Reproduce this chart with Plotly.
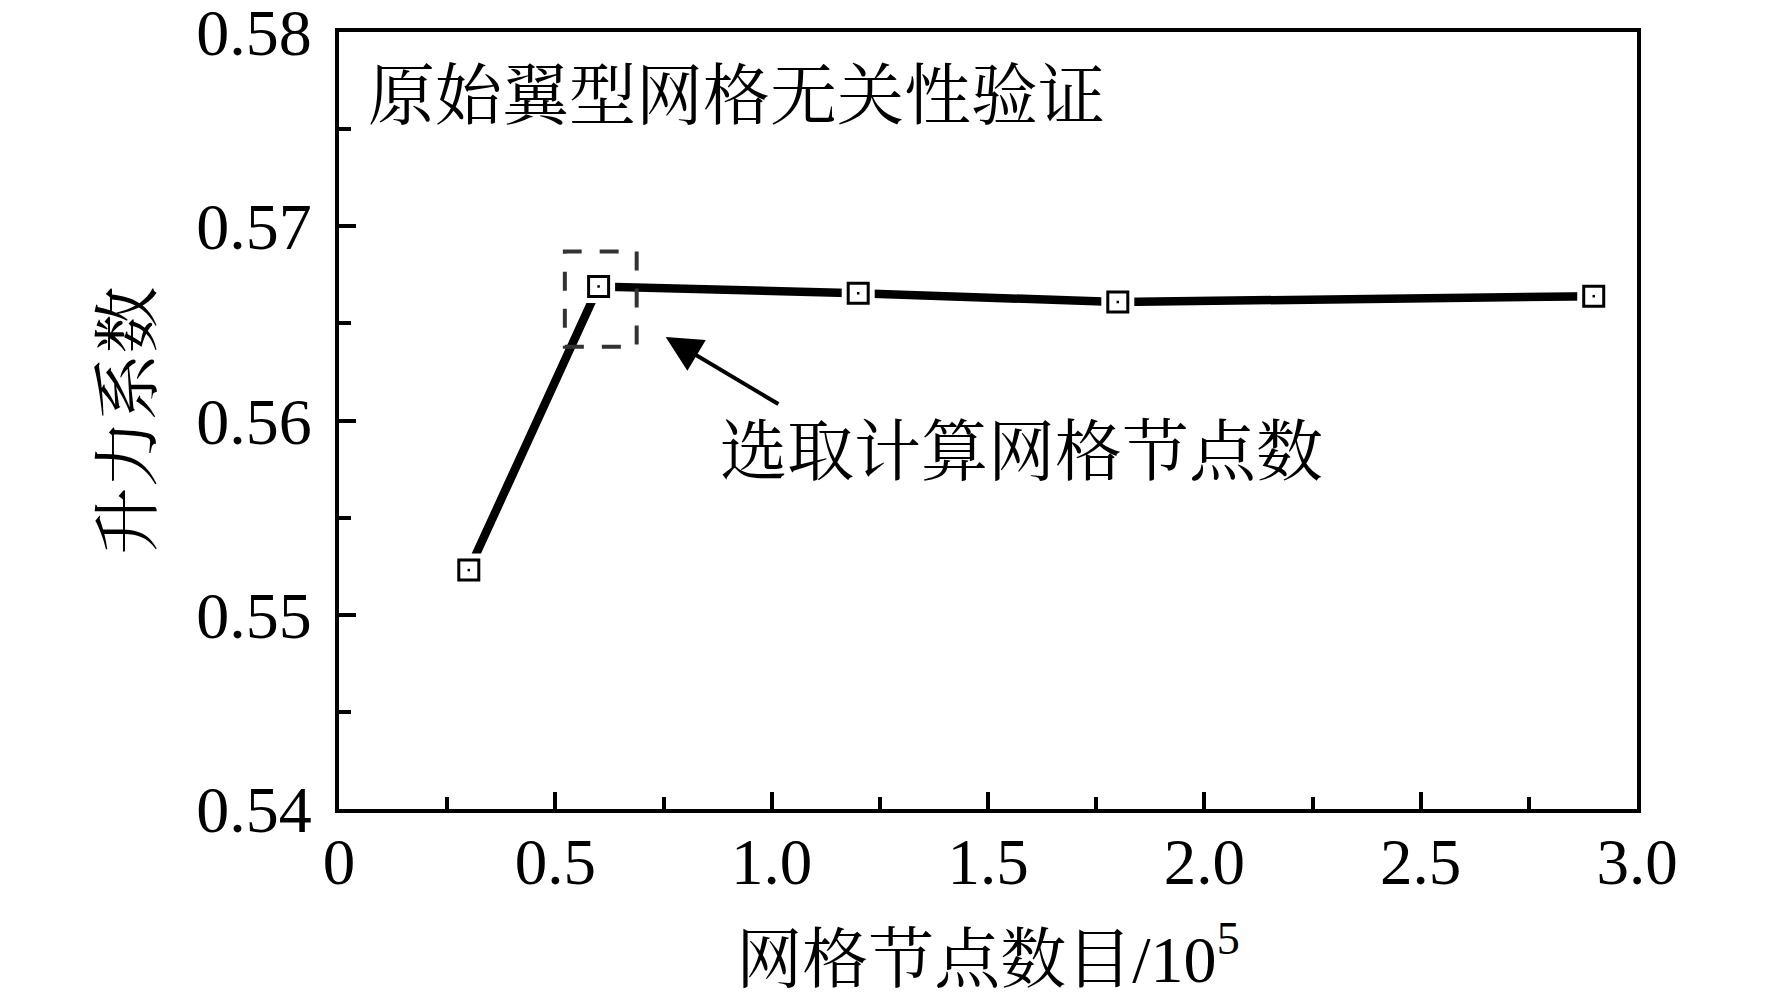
import plotly.graph_objects as go

# 网格节点数目 (x 1e5) 与升力系数
node_counts = [0.3, 0.6, 1.2, 1.8, 2.9]
lift_coef = [0.5523, 0.5669, 0.56655, 0.5661, 0.5664]

x_tick_vals = [0, 0.5, 1.0, 1.5, 2.0, 2.5, 3.0]
x_tick_text = ["0", "0.5", "1.0", "1.5", "2.0", "2.5", "3.0"]
y_tick_vals = [0.54, 0.55, 0.56, 0.57, 0.58]
y_tick_text = ["0.54", "0.55", "0.56", "0.57", "0.58"]

# 选取的网格 -> 虚线框范围
box_x = [0.522, 0.688]
box_y = [0.5638, 0.5687]

FONT = "Liberation Serif, Noto Serif CJK SC, Noto Sans CJK SC, serif"

fig = go.Figure()

# 折线
fig.add_trace(go.Scatter(
    x=node_counts, y=lift_coef, mode="lines",
    line=dict(color="black", width=8.5),
    showlegend=False,
))
# 白底, 让线条在方块前断开
fig.add_trace(go.Scatter(
    x=node_counts, y=lift_coef, mode="markers",
    marker=dict(symbol="square", size=33, color="white", line=dict(width=0)),
    showlegend=False,
))
# 空心方块
fig.add_trace(go.Scatter(
    x=node_counts, y=lift_coef, mode="markers",
    marker=dict(symbol="square", size=20, color="white",
                line=dict(color="black", width=3)),
    showlegend=False,
))
# 方块中心的小点
fig.add_trace(go.Scatter(
    x=node_counts, y=lift_coef, mode="markers",
    marker=dict(symbol="square", size=2.5, color="black", line=dict(width=0)),
    showlegend=False,
))

# 选取点的虚线框
fig.add_shape(
    type="rect", xref="x", yref="y",
    x0=box_x[0], x1=box_x[1], y0=box_y[0], y1=box_y[1],
    line=dict(color="#333333", width=4, dash="19px,18px"),
)

# 箭头
fig.add_annotation(
    x=0.755, y=0.5643, ax=1.019, ay=0.5608,
    xref="x", yref="y", axref="x", ayref="y",
    text="", showarrow=True,
    arrowhead=2, arrowsize=1.8, arrowwidth=4, arrowcolor="black",
)
fig.add_annotation(
    x=0.875, y=0.5584, xref="x", yref="y",
    text="选取计算网格节点数", showarrow=False,
    xanchor="left", yanchor="middle",
    font=dict(family=FONT, size=67, color="black"),
)
fig.add_annotation(
    x=0.062, y=0.5767, xref="x", yref="y",
    text="原始翼型网格无关性验证", showarrow=False,
    xanchor="left", yanchor="middle",
    font=dict(family=FONT, size=67, color="black"),
)

fig.update_xaxes(
    range=[0, 3.0],
    tickvals=x_tick_vals, ticktext=x_tick_text,
    ticks="inside", ticklen=17, tickwidth=4, tickcolor="black",
    minor=dict(dtick=0.25, ticks="inside", ticklen=12, tickwidth=4, tickcolor="black"),
    showline=True, linecolor="black", linewidth=4, mirror=True,
    showgrid=False, zeroline=False, automargin=False,
    tickfont=dict(family=FONT, size=65, color="black"),
    ticklabelstandoff=-7,
    title=dict(text="网格节点数目/10<sup>5</sup>", standoff=40,
               font=dict(family=FONT, size=66, color="black")),
)
fig.update_yaxes(
    range=[0.54, 0.58],
    tickvals=y_tick_vals, ticktext=y_tick_text,
    ticks="inside", ticklen=17, tickwidth=4, tickcolor="black",
    minor=dict(dtick=0.005, ticks="inside", ticklen=12, tickwidth=4, tickcolor="black"),
    showline=True, linecolor="black", linewidth=4, mirror=True,
    showgrid=False, zeroline=False, automargin=False,
    tickfont=dict(family=FONT, size=66, color="black"),
    ticklabelstandoff=10, ticklabeloverflow="allow",
    title=dict(text="升力系数", standoff=24,
               font=dict(family=FONT, size=67, color="black")),
)

fig.update_layout(
    width=1772, height=999,
    margin=dict(l=339, r=135, t=32, b=190),
    plot_bgcolor="white", paper_bgcolor="white",
    font=dict(family=FONT, color="black"),
)

# 去掉页面默认的 8px 边距, 不显示工具栏
fig.write_html("out.html", config={"displayModeBar": False},
               post_script="document.body.style.margin='0';")
